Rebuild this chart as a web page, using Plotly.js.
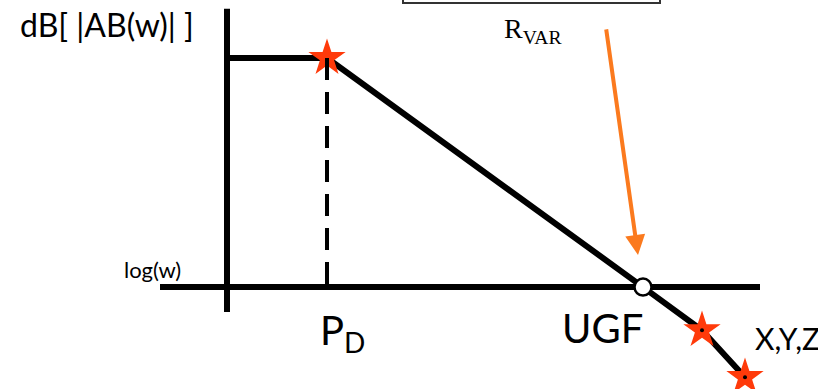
<!DOCTYPE html>
<html>
<head>
<meta charset="utf-8">
<script src="https://cdn.plot.ly/plotly-3.0.1.min.js"></script>
<style>
  body { margin: 0; background: #fff; }
  #plot { width: 818px; height: 389px; }
</style>
</head>
<body>
<div id="plot"></div>
<script>
// gain curve, x = log(w) in decades, y = gain in dB
let gainX = [0, 1, 4.16, 4.75, 5.18];
let gainY = [60, 60, 0, -11.3, -23.6];

// axes drawn as lines
let axisHX = [-0.67, 5.33];
let axisHY = [0, 0];
let axisVX = [0, 0];
let axisVY = [72.9, -6.5];

// dominant pole
let poleX = [1];
let poleY = [60];
let poleDropX = [1, 1];
let poleDropY = [60, 0];

// unity gain frequency
let ugfX = [4.16];
let ugfY = [0];

// extra poles X,Y,Z
let extraX = [4.75, 5.18];
let extraY = [-11.3, -23.6];

let black = '#000000';
let star = '#ff3a0a';
let orange = '#fb7a1e';

let data = [
  {x: axisHX, y: axisHY, mode: 'lines', line: {color: black, width: 6}},
  {x: axisVX, y: axisVY, mode: 'lines', line: {color: black, width: 6}},
  {x: gainX, y: gainY, mode: 'lines', line: {color: black, width: 6}},
  {x: poleX, y: poleY, mode: 'markers', marker: {symbol: 'star', size: 28, color: star}},
  {x: poleDropX, y: poleDropY, mode: 'lines', line: {color: black, width: 4, dash: '22px,12px'}},
  {x: extraX, y: extraY, mode: 'markers', marker: {symbol: 'star', size: 28, color: star}},
  {x: extraX, y: extraY, mode: 'markers', marker: {size: 4, color: black}},
  {x: ugfX, y: ugfY, mode: 'markers', marker: {size: 17, color: '#ffffff', line: {color: black, width: 2.5}}}
];

let font = 'Lato, "Open Sans", sans-serif';

let layout = {
  width: 818,
  height: 389,
  margin: {l: 0, r: 0, t: 0, b: 0},
  paper_bgcolor: '#ffffff',
  plot_bgcolor: '#ffffff',
  showlegend: false,
  xaxis: {range: [-2.27, 5.91], visible: false, fixedrange: true},
  yaxis: {range: [-26.7, 75.2], visible: false, fixedrange: true},
  shapes: [
    {type: 'rect', xref: 'x', yref: 'y', x0: 1.76, x1: 4.33, y0: 74.4, y1: 80,
     line: {color: '#333333', width: 2}}
  ],
  annotations: [
    {x: 4.11, y: 8.4, ax: 3.79, ay: 67.9, axref: 'x', ayref: 'y', xref: 'x', yref: 'y',
     text: '', showarrow: true, arrowhead: 2, arrowsize: 1, arrowwidth: 4, arrowcolor: orange},
    {x: -2.09, y: 68.9, xref: 'x', yref: 'y', xanchor: 'left', yanchor: 'middle', showarrow: false,
     text: 'dB[ |AB(w)| ]', font: {family: font, size: 32, color: black}},
    {x: -1.05, y: 4.5, xref: 'x', yref: 'y', xanchor: 'left', yanchor: 'middle', showarrow: false,
     text: 'log(w)', font: {family: font, size: 22, color: black}},
    {x: 0.91, y: -12, xref: 'x', yref: 'y', xanchor: 'left', yanchor: 'middle', showarrow: false,
     text: 'P<sub>D</sub>', font: {family: font, size: 40, color: black}},
    {x: 3.33, y: -10.7, xref: 'x', yref: 'y', xanchor: 'left', yanchor: 'middle', showarrow: false,
     text: 'UGF', font: {family: font, size: 40, color: black}},
    {x: 5.26, y: -13.4, xref: 'x', yref: 'y', xanchor: 'left', yanchor: 'middle', showarrow: false,
     text: 'X,Y,Z', font: {family: font, size: 30, color: black}},
    {x: 3.06, y: 67.3, xref: 'x', yref: 'y', xanchor: 'center', yanchor: 'middle', showarrow: false,
     text: 'R<sub>VAR</sub>', font: {family: '"Liberation Serif", "DejaVu Serif", serif', size: 28, color: black}}
  ]
};

Plotly.newPlot('plot', data, layout, {displayModeBar: false, staticPlot: true});
</script>
</body>
</html>
